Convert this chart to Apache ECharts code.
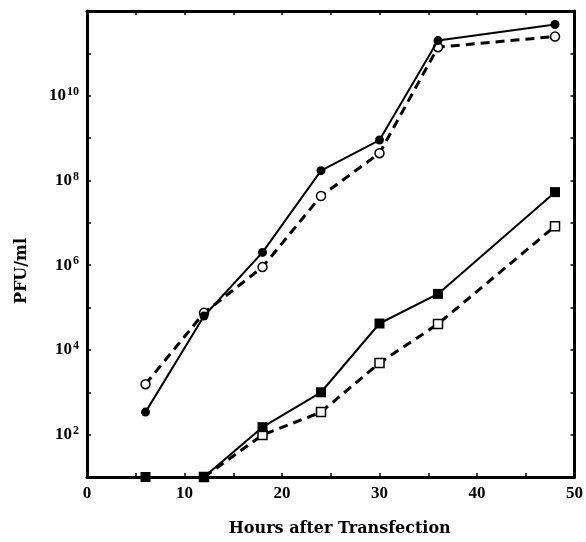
<!DOCTYPE html>
<html>
<head>
<meta charset="utf-8">
<script src="https://cdn.jsdelivr.net/npm/echarts@6/dist/echarts.min.js"></script>
<style>html,body{margin:0;padding:0;background:#fff}#c{width:586px;height:542px}</style>
</head>
<body>
<div id="c"></div>
<script>
// Hours after transfection
var hours = [6, 12, 18, 24, 30, 36, 48];
// PFU/ml values
var filledCircle = [340, 6.3e4, 2.0e6, 1.7e8, 9e8, 2.0e11, 4.8e11];
var openCircle = [1550, 7.5e4, 9e5, 4.3e7, 4.4e8, 1.4e11, 2.5e11];
var filledSquare = [10, 10, 150, 1000, 4.2e4, 2.1e5, 5.3e7];
var openSquareHours = [12, 18, 24, 30, 36, 48];
var openSquare = [10, 98, 340, 4900, 4.1e4, 8.3e6];
var xTicks = [0, 10, 20, 30, 40, 50];
var yLabelExps = [2, 4, 6, 8, 10];

function pairs(xs, ys) { return xs.map(function (x, i) { return [x, ys[i]]; }); }

var FONT = 'Liberation Serif';
var TFONT = 'DejaVu Serif';
var chart = echarts.init(document.getElementById('c'));
var axisLine = { show: true, onZero: false, lineStyle: { color: '#000', width: 3 } };
var tick = { show: true, inside: true, length: 4, lineStyle: { color: '#000', width: 1.5 } };
var option = {
  animation: false,
  backgroundColor: '#fff',
  grid: { left: 87, right: 11, top: 11, bottom: 65 },
  xAxis: [{
    type: 'value', min: 0, max: 50, interval: 5, position: 'bottom',
    axisLine: axisLine, axisTick: tick,
    splitLine: { show: false },
    axisLabel: {
      color: '#000', fontFamily: FONT, fontWeight: 'bold', fontSize: 17, margin: 8,
      formatter: function (v) { return xTicks.indexOf(v) >= 0 ? String(v) : ''; }
    },
    name: 'Hours after Transfection', nameLocation: 'middle', nameGap: 44,
    nameTextStyle: { color: '#000', fontFamily: TFONT, fontWeight: 'bold', fontSize: 16, padding: [0, 0, 0, 18] }
  }, {
    type: 'value', min: 0, max: 50, interval: 5, position: 'top',
    axisLine: axisLine, axisTick: tick,
    splitLine: { show: false }, axisLabel: { show: false }
  }],
  yAxis: [{
    type: 'log', logBase: 10, min: 10, max: 1e12, interval: 1, position: 'left',
    axisLine: axisLine, axisTick: tick,
    minorTick: { show: false },
    splitLine: { show: false },
    axisLabel: {
      color: '#000', fontFamily: FONT, fontWeight: 'bold', fontSize: 17, margin: 8,
      formatter: function (v) {
        var e = Math.round(Math.log10(v));
        return yLabelExps.indexOf(e) >= 0 ? '10{s|' + e + '}' : '';
      },
      rich: { s: { fontFamily: FONT, fontWeight: 'bold', fontSize: 12, verticalAlign: 'top', padding: [0, 0, 8, 1], color: '#000' } }
    },
    name: 'PFU/ml', nameLocation: 'middle', nameGap: 57,
    nameTextStyle: { color: '#000', fontFamily: TFONT, fontWeight: 'bold', fontSize: 16, padding: [0, 54, 0, 0] }
  }, {
    type: 'log', logBase: 10, min: 10, max: 1e12, interval: 1, position: 'right',
    axisLine: axisLine, axisTick: tick,
    splitLine: { show: false }, axisLabel: { show: false }
  }],
  series: [{
    type: 'line', data: pairs(hours, filledCircle), clip: false,
    symbol: 'circle', symbolSize: 9,
    itemStyle: { color: '#000' },
    lineStyle: { color: '#000', width: 2, type: 'solid' }, z: 3
  }, {
    type: 'line', data: pairs(hours, openCircle), clip: false,
    symbol: 'circle', symbolSize: 9,
    itemStyle: { color: '#fff', borderColor: '#000', borderWidth: 1.5 },
    lineStyle: { color: '#000', width: 3, type: [9, 6] }, z: 2
  }, {
    type: 'line', data: pairs(hours, filledSquare), clip: false,
    symbol: 'rect', symbolSize: 10,
    itemStyle: { color: '#000' },
    lineStyle: { color: '#000', width: 2, type: 'solid' }, z: 3
  }, {
    type: 'line', data: pairs(openSquareHours, openSquare), clip: false,
    symbol: 'rect', symbolSize: 9,
    itemStyle: { color: '#fff', borderColor: '#000', borderWidth: 1.5 },
    lineStyle: { color: '#000', width: 3, type: [9, 6] }, z: 2
  }]
};
chart.setOption(option);
</script>
</body>
</html>
